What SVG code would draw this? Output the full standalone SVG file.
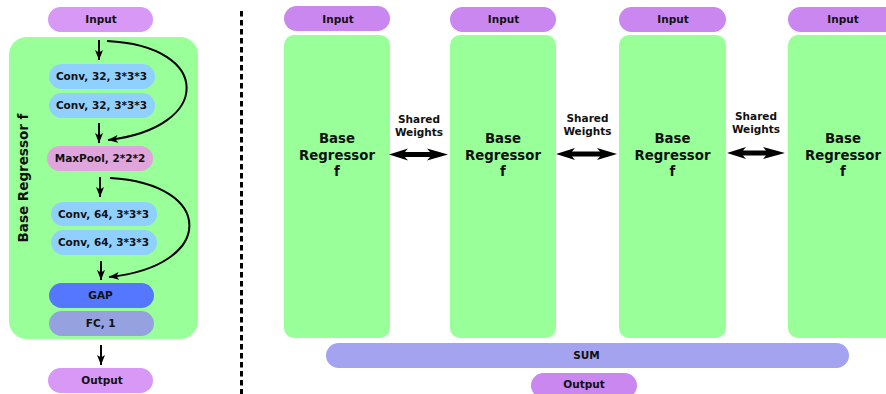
<svg xmlns="http://www.w3.org/2000/svg" width="886" height="394" viewBox="0 0 886 394">
<defs>
<marker id="ah" markerUnits="userSpaceOnUse" markerWidth="11" markerHeight="9" refX="10" refY="4.5" orient="auto">
<path d="M0,0.5 L10,4.5 L0,8.5 L2.5,4.5 z" fill="#000"/>
</marker>
<style>
text{font-family:"DejaVu Sans","Liberation Sans",sans-serif;font-weight:bold;fill:#111;text-anchor:middle}
.s{font-size:10.5px}
.b{font-size:13.3px}
.v{font-size:13.5px}
.inL{fill:#d898f5}
.inR{fill:#c987ef}
.green{fill:#99ff99}
.conv{fill:#90d0ff}
.pool{fill:#dfa5dc}
.gap{fill:#5577ff}
.fc{fill:#96a2e0}
.sum{fill:#a3a3ef}
.ln{stroke:#000;stroke-width:2;fill:none}
.dbl{fill:#000}
</style>
</defs>
<rect width="886" height="394" fill="#fff"/>

<!-- left panel -->
<g id="left-input"><rect class="inL" x="48" y="7" width="105" height="25" rx="12.5"/><text class="s" x="101" y="23.3">Input</text></g>
<g id="base-regressor-panel"><rect class="green" x="9" y="37" width="189" height="302" rx="18"/><text class="v" transform="translate(27.5,178) rotate(-90)" x="0" y="0">Base Regressor f</text></g>
<g id="conv32a"><rect class="conv" x="49" y="64" width="106" height="25" rx="12.5"/><text class="s" x="101.5" y="80.3">Conv, 32, 3*3*3</text></g>
<g id="conv32b"><rect class="conv" x="49" y="93" width="106" height="25" rx="12.5"/><text class="s" x="101.5" y="109.3">Conv, 32, 3*3*3</text></g>
<g id="maxpool"><rect class="pool" x="47" y="146" width="106" height="25" rx="12.5"/><text class="s" x="100" y="162.3">MaxPool, 2*2*2</text></g>
<g id="conv64a"><rect class="conv" x="51" y="202" width="106" height="24" rx="12"/><text class="s" x="103.5" y="217.8">Conv, 64, 3*3*3</text></g>
<g id="conv64b"><rect class="conv" x="51" y="230" width="106" height="25" rx="12.5"/><text class="s" x="103.5" y="246.3">Conv, 64, 3*3*3</text></g>
<g id="gap"><rect class="gap" x="49" y="283" width="105" height="25" rx="12.5"/><text class="s" x="100.5" y="299.3">GAP</text></g>
<g id="fc"><rect class="fc" x="49" y="311" width="105" height="25" rx="12.5"/><text class="s" x="100.7" y="327.3">FC, 1</text></g>
<g id="left-output"><rect class="inL" x="48" y="368" width="105" height="25" rx="12.5"/><text class="s" x="102" y="384.3">Output</text></g>

<!-- divider -->
<line x1="241.5" y1="11" x2="241.5" y2="394" stroke="#000" stroke-width="3" stroke-dasharray="5.5,3.5"/>

<!-- right panel -->
<g id="input1"><rect class="inR" x="284" y="6" width="106" height="25" rx="12.5"/><text class="s" x="338" y="22.8">Input</text></g>
<g id="input2"><rect class="inR" x="450" y="7" width="106" height="25" rx="12.5"/><text class="s" x="503.5" y="23.3">Input</text></g>
<g id="input3"><rect class="inR" x="619" y="7" width="107" height="25" rx="12.5"/><text class="s" x="673" y="23.3">Input</text></g>
<g id="input4"><rect class="inR" x="788" y="7" width="112" height="25" rx="12.5"/><text class="s" x="843" y="23.3">Input</text></g>

<g id="regressor1"><rect class="green" x="284" y="35" width="106" height="303" rx="10"/><text class="b" x="337" y="142.5">Base</text><text class="b" x="337" y="159.5">Regressor</text><text class="b" x="337" y="175.5">f</text></g>
<g id="regressor2"><rect class="green" x="450" y="35" width="106" height="303" rx="10"/><text class="b" x="503" y="142.5">Base</text><text class="b" x="503" y="159.5">Regressor</text><text class="b" x="503" y="175.5">f</text></g>
<g id="regressor3"><rect class="green" x="619" y="35" width="107" height="303" rx="10"/><text class="b" x="672.5" y="142.5">Base</text><text class="b" x="672.5" y="159.5">Regressor</text><text class="b" x="672.5" y="175.5">f</text></g>
<g id="regressor4"><rect class="green" x="788" y="35" width="112" height="303" rx="10"/><text class="b" x="843" y="142.5">Base</text><text class="b" x="843" y="159.5">Regressor</text><text class="b" x="843" y="175.5">f</text></g>

<g id="sum"><rect class="sum" x="326" y="343" width="523" height="25" rx="12.5"/><text class="s" x="586.5" y="359.3">SUM</text></g>
<g id="right-output"><rect class="inR" x="531" y="373" width="106" height="25" rx="12.5"/><text class="s" x="584" y="387.5">Output</text></g>

<g id="labels">
<text class="s" x="419" y="122.5">Shared</text><text class="s" x="419" y="135.5">Weights</text>
<text class="s" x="587.5" y="122">Shared</text><text class="s" x="587.5" y="135">Weights</text>
<text class="s" x="756" y="120">Shared</text><text class="s" x="756" y="133">Weights</text>
</g>

<!-- connectors -->
<g id="connectors">
<line class="ln" x1="99" y1="40" x2="99" y2="60" marker-end="url(#ah)"/>
<line class="ln" x1="99" y1="123" x2="99" y2="143" marker-end="url(#ah)"/>
<line class="ln" x1="100" y1="177" x2="100" y2="197" marker-end="url(#ah)"/>
<line class="ln" x1="101" y1="261" x2="101" y2="280" marker-end="url(#ah)"/>
<line class="ln" x1="101" y1="345" x2="101" y2="365" marker-end="url(#ah)"/>
<path class="ln" d="M107,41 C213,46 213,128 108,140" marker-end="url(#ah)"/>
<path class="ln" d="M110,178 C216,184 216,266 109,277" marker-end="url(#ah)"/>
<polygon class="dbl" points="389,154.5 408,148.5 405,152 430,152 427,148.5 448,154.5 427,160.5 430,157 405,157 408,160.5"/>
<polygon class="dbl" points="556,154 575,148 572,151.5 600,151.5 597,148 617,154 597,160 600,156.5 572,156.5 575,160"/>
<polygon class="dbl" points="727,153 746,147 743,150.5 766,150.5 763,147 785,153 763,159 766,155.5 743,155.5 746,159"/>
</g>
</svg>
